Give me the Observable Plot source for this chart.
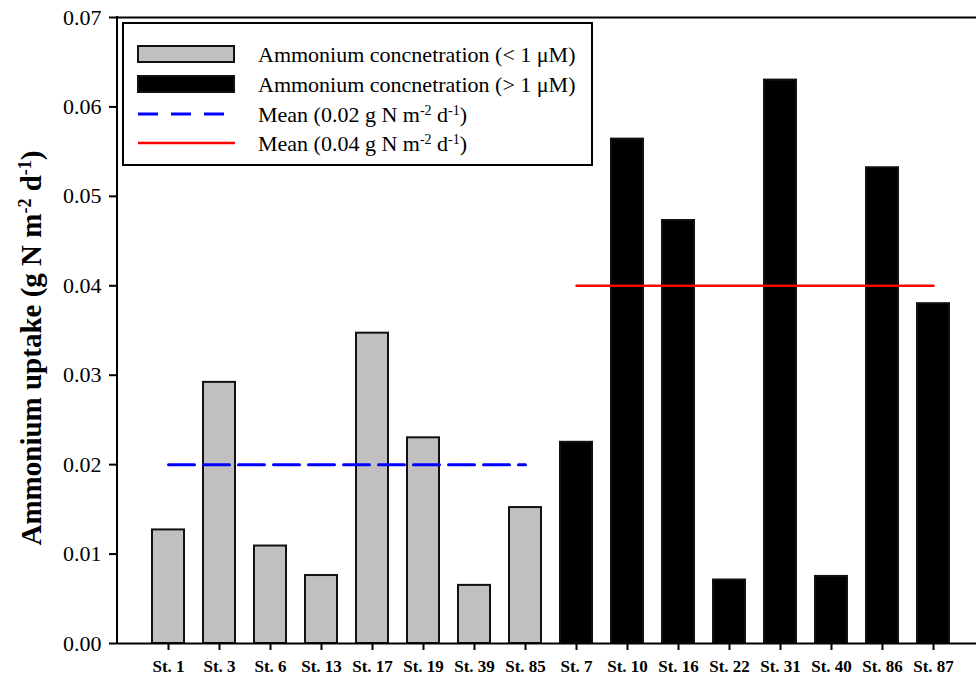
<!DOCTYPE html>
<html><head><meta charset="utf-8">
<script src="https://cdn.jsdelivr.net/npm/d3@7"></script>
<script src="https://cdn.jsdelivr.net/npm/@observablehq/plot@0.6"></script>
<style>
html,body{margin:0;padding:0;background:#fff;overflow:hidden;}
#chart{width:976px;height:678px;}
</style>
</head><body><div id="chart"></div>
<script>
// ---- data ----
const stations = ["St. 1","St. 3","St. 6","St. 13","St. 17","St. 19","St. 39","St. 85",
                  "St. 7","St. 10","St. 16","St. 22","St. 31","St. 40","St. 86","St. 87"];
const uptake = [0.0127,0.0292,0.0109,0.0076,0.0347,0.0230,0.0065,0.0152,
                0.0225,0.0564,0.0473,0.0071,0.0630,0.0075,0.0532,0.0380];
const groups = ["low","low","low","low","low","low","low","low",
                "high","high","high","high","high","high","high","high"];
const groupNames = ["low","high"];
const groupLabels = ["Ammonium concnetration (< 1 \u03bcM)","Ammonium concnetration (> 1 \u03bcM)"];
const meanValues = [0.02, 0.04];
const meanLabelParts = [["Mean (0.02 g N m","-2"," d","-1",")"],["Mean (0.04 g N m","-2"," d","-1",")"]];
const yTicks = [0,0.01,0.02,0.03,0.04,0.05,0.06,0.07];
const yTitleParts = ["Ammonium uptake (g N m","-2"," d","-1",")"];

// ---- derived tables ----
const data = stations.map((s,i)=>({station:s, value:uptake[i], group:groups[i]}));
function meanSeg(g, v){
  const st = stations.filter((s,i)=>groups[i]===g);
  return [{station: st[0], value: v}, {station: st[st.length-1], value: v}];
}
const meanLow = meanSeg("low", meanValues[0]);
const meanHigh = meanSeg("high", meanValues[1]);

const W = 976, H = 678, ML = 117, MT = 17, MB = 35;
const serif = "'Liberation Serif','Times New Roman',Times,serif";

const chart = Plot.plot({
  width: W, height: H,
  marginLeft: ML, marginRight: 0, marginTop: MT, marginBottom: MB,
  style: {fontFamily: serif, background: "white", color: "#000"},
  x: {type: "band", domain: stations, range: [ML, 984], paddingInner: 0.38, paddingOuter: 0.675, label: null},
  y: {domain: [0, 0.07], label: null},
  color: {domain: groupNames, range: ["#c0c0c0", "#000000"]},
  marks: [
    Plot.barY(data, {x: "station", y: "value", fill: "group", stroke: "#111", strokeWidth: 2}),
    Plot.ruleY([0, 0.07], {stroke: "#000", strokeWidth: 2}),
    Plot.line(meanLow, {x: "station", y: "value", stroke: "#0000ff", strokeWidth: 3, strokeDasharray: "26,9"}),
    Plot.line(meanHigh, {x: "station", y: "value", stroke: "#ff0000", strokeWidth: 2.5}),
    Plot.axisY({ticks: yTicks, tickFormat: d3.format(".2f"), fontSize: 22, tickSize: 8, tickPadding: 8, strokeWidth: 2, label: null}),
    Plot.axisX({tickSize: 7, tickPadding: 9, fontSize: 17, fontWeight: "bold", strokeWidth: 2, label: null})
  ]
});
document.getElementById("chart").appendChild(chart);

const svg = d3.select(chart);
const y = chart.scale("y");
// left axis line
svg.append("line").attr("x1", ML).attr("x2", ML)
  .attr("y1", y.apply(0) + 1).attr("y2", y.apply(0.07) - 1)
  .attr("stroke", "#000").attr("stroke-width", 2);

function supText(sel, parts, sizeSup){
  parts.forEach((p,i)=>{
    const t = sel.append("tspan").text(p);
    if (i % 2 === 1) t.attr("font-size", sizeSup).attr("baseline-shift", "super");
  });
}

// y title
const yt = svg.append("text")
  .attr("transform", "translate(41,348) rotate(-90)")
  .attr("text-anchor", "middle")
  .attr("font-family", serif).attr("font-weight", "bold").attr("font-size", 29);
supText(yt, yTitleParts, 18);

// legend
const lg = svg.append("g").attr("text-anchor", "start");
lg.append("rect").attr("x", 123).attr("y", 23).attr("width", 469).attr("height", 142)
  .attr("fill", "white").attr("stroke", "#000").attr("stroke-width", 2);
const color = chart.scale("color");
const rowY = [54, 84, 114, 143];
groupNames.forEach((g,i)=>{
  lg.append("rect").attr("x", 138).attr("y", rowY[i]-8).attr("width", 96).attr("height", 16)
    .attr("fill", color.apply(g)).attr("stroke", "#111").attr("stroke-width", 2);
  lg.append("text").attr("x", 258).attr("y", rowY[i]).attr("dy", "0.35em").attr("text-anchor", "start")
    .attr("font-family", serif).attr("font-size", 22).text(groupLabels[i]);
});
lg.append("line").attr("x1", 138).attr("x2", 226).attr("y1", rowY[2]).attr("y2", rowY[2])
  .attr("stroke", "#0000ff").attr("stroke-width", 3).attr("stroke-dasharray", "20,13");
lg.append("line").attr("x1", 138).attr("x2", 235).attr("y1", rowY[3]).attr("y2", rowY[3])
  .attr("stroke", "#ff0000").attr("stroke-width", 2.5);
[2,3].forEach((r,k)=>{
  const t = lg.append("text").attr("x", 258).attr("y", rowY[r]).attr("dy", "0.35em").attr("text-anchor", "start")
    .attr("font-family", serif).attr("font-size", 22);
  supText(t, meanLabelParts[k], 14);
});
</script>
</body></html>
